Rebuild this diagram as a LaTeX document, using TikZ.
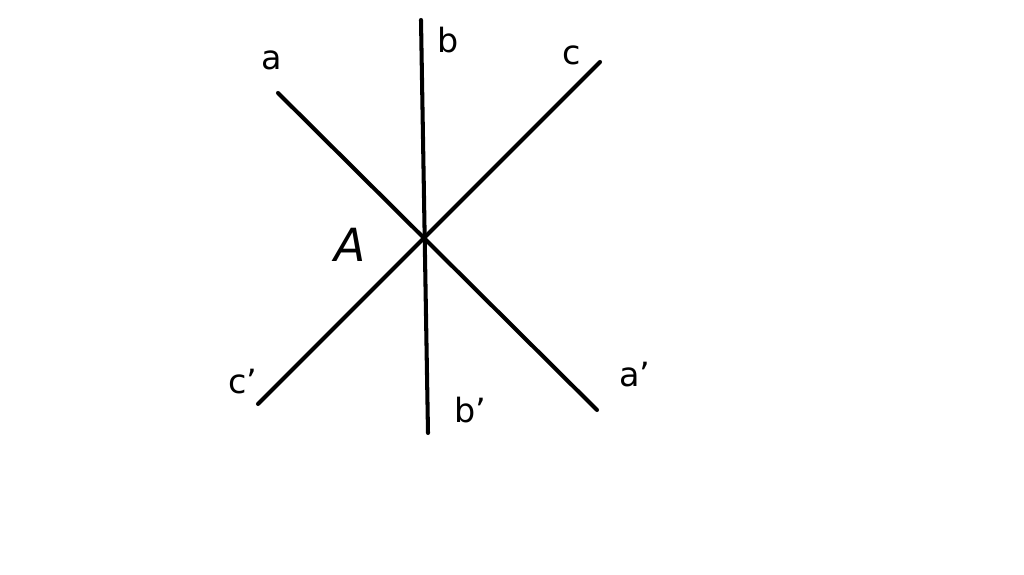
\documentclass[tikz,border=0pt]{standalone}
\usepackage{fontspec}
\setmainfont{DejaVu Sans}
\begin{document}
\begin{tikzpicture}[
    ray/.style={line width=2.3pt, line cap=round},
    lbl/.style={font=\fontsize{19}{22}\selectfont},
    pnt/.style={font=\fontsize{26}{30}\selectfont\itshape}
]
\useasboundingbox (0,0) rectangle (20.48,11.5);

% ends of the three lines
\coordinate (aend) at (5.56,9.64);
\coordinate (aend2) at (11.94,3.30);
\coordinate (bend) at (8.42,11.10);
\coordinate (bend2) at (8.56,2.84);
\coordinate (cend) at (12.00,10.26);
\coordinate (cend2) at (5.16,3.42);

\node[lbl] (alab) at (5.44,10.30) {a};
\node[lbl] (blab) at (8.96,10.70) {b};
\node[lbl] (clab) at (11.44,10.40) {c};
\node[lbl] (calab) at (4.86,3.86) {c'};
\node[lbl] (balab) at (9.40,3.30) {b'};
\node[lbl] (aalab) at (12.70,4.00) {a'};
\node[pnt] (ptA) at (7.00,6.60) {A};

% lines through A
\draw[ray] (aend) -- (aend2);
\draw[ray] (bend) -- (bend2);
\draw[ray] (cend) -- (cend2);

\end{tikzpicture}
\end{document}
